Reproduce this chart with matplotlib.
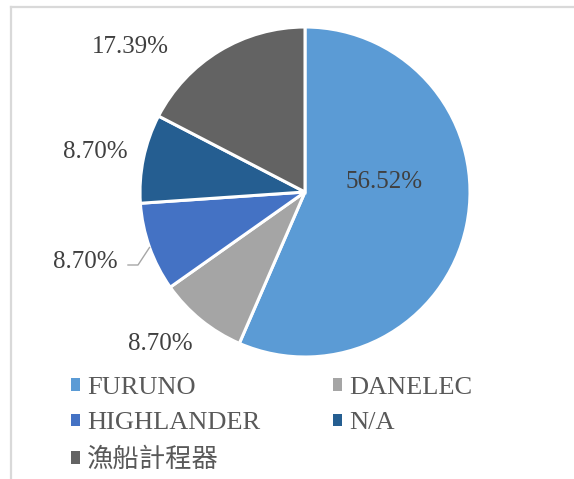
import matplotlib
matplotlib.use("Agg")
import matplotlib.pyplot as plt
from matplotlib.patches import Patch
from matplotlib.lines import Line2D

categories = ["FURUNO", "DANELEC", "HIGHLANDER", "N/A", "漁船計程器"]
values = [56.52, 8.70, 8.70, 8.70, 17.39]
labels_txt = ["56.52%", "8.70%", "8.70%", "8.70%", "17.39%"]
colors = ["#5B9BD5", "#A5A5A5", "#4472C4", "#255E91", "#636363"]

W, H = 574, 479
fig = plt.figure(figsize=(W / 100, H / 100), dpi=100)
fig.patch.set_facecolor("white")

fam = ["Liberation Serif", "Noto Sans CJK TC", "DejaVu Sans"]

# pie axes: center (305,192) px, radius 165 px
cx, cy, r = 305, 192, 165
ax = fig.add_axes([(cx - r) / W, (H - cy - r) / H, 2 * r / W, 2 * r / H])
wedges, _ = ax.pie(values, colors=colors, startangle=90, counterclock=False,
                   radius=1, wedgeprops=dict(edgecolor="white", linewidth=2.2))
ax.set_xlim(-1, 1)
ax.set_ylim(-1, 1)
ax.set_aspect("equal")
ax.axis("off")

def d(px, py):
    return ((px - cx) / r, (cy - py) / r)

label_pos = [d(384, 182), d(160, 344), d(85, 262), d(95, 152), d(130, 47)]
for t, (x, y) in zip(labels_txt, label_pos):
    ax.text(x, y, t, ha="center", va="center", fontsize=18, family=fam,
            color="#404040", clip_on=False)

# leader line for HIGHLANDER label
p0, p1, p2 = d(128, 265), d(138, 265), d(149.5, 247.5)
ax.add_line(Line2D([p0[0], p1[0], p2[0]], [p0[1], p1[1], p2[1]],
                   color="#A6A6A6", linewidth=1.0, clip_on=False))

# legend (row-major order: matplotlib fills columns first)
order = [0, 2, 4, 1, 3]
handles = [Patch(facecolor=colors[i], edgecolor="none") for i in order]
leg_labels = [categories[i] for i in order]
leg = fig.legend(handles, leg_labels, ncol=2, loc="upper left",
                 bbox_to_anchor=(71 / W, 1 - 377 / H), frameon=False,
                 prop=dict(family=fam, size=19), labelcolor="#595959",
                 handlelength=0.34, handleheight=0.34, handletextpad=0.28,
                 columnspacing=2.75, labelspacing=0.5, borderpad=0,
                 borderaxespad=0)

# chart border (partial, cropped)
fig.add_artist(Line2D([11 / W, 11 / W], [0, 1 - 6.5 / H], color="#D9D9D9",
                      linewidth=1.6, transform=fig.transFigure))
fig.add_artist(Line2D([11 / W, 1], [1 - 6.5 / H, 1 - 6.5 / H], color="#D9D9D9",
                      linewidth=1.6, transform=fig.transFigure))

fig.savefig("out.png", dpi=100, facecolor="white")
